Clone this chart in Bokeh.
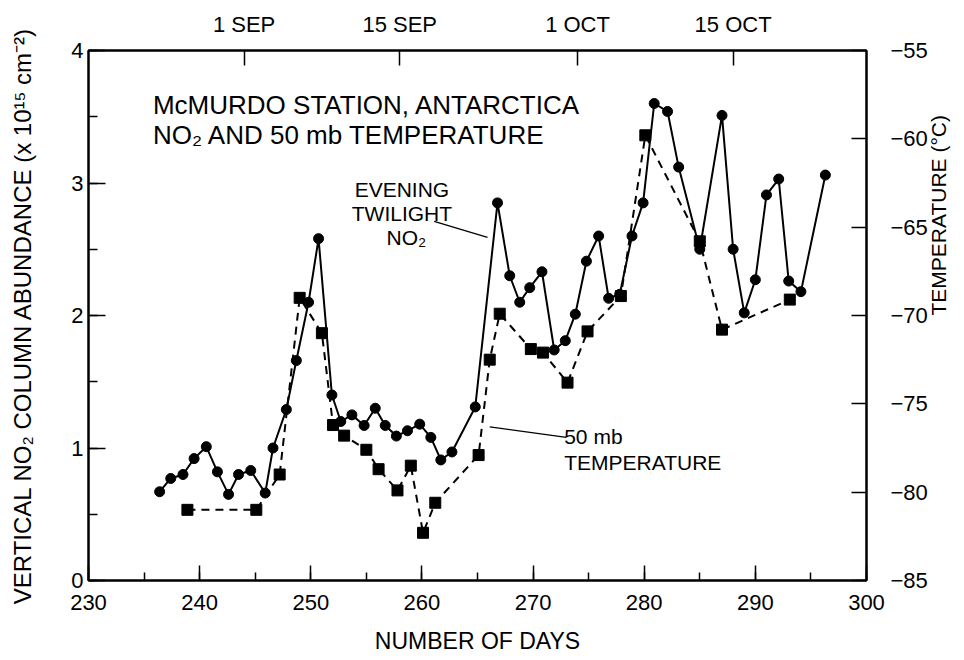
import math
from bokeh.plotting import figure
from bokeh.models import Range1d, LinearAxis, FixedTicker, SingleIntervalTicker, Label, Spacer
from bokeh.layouts import column, row
from bokeh.embed import file_html
from bokeh.resources import INLINE

# ---------------- data ----------------
no2_days = [236.4, 237.4, 238.5, 239.5, 240.6, 241.6, 242.6, 243.5, 244.6, 245.9,
            246.6, 247.8, 248.7, 249.8, 250.7, 251.9, 252.7, 253.7, 254.8, 255.8,
            256.7, 257.7, 258.7, 259.8, 260.8, 261.7, 262.7, 264.8, 266.8, 267.9,
            268.8, 269.7, 270.8, 271.9, 272.9, 273.8, 274.8, 275.9, 276.8, 277.8,
            278.9, 279.9, 280.9, 282.1, 283.1, 285.0, 287.0, 288.0, 289.0, 290.0,
            291.0, 292.1, 293.0, 294.1, 296.3]
no2_values = [0.67, 0.77, 0.80, 0.92, 1.01, 0.82, 0.65, 0.80, 0.83, 0.66,
              1.00, 1.29, 1.66, 2.10, 2.58, 1.40, 1.20, 1.25, 1.17, 1.30,
              1.17, 1.09, 1.13, 1.18, 1.08, 0.91, 0.97, 1.31, 2.85, 2.30,
              2.10, 2.21, 2.33, 1.74, 1.81, 2.01, 2.41, 2.60, 2.13, 2.16,
              2.60, 2.85, 3.60, 3.54, 3.12, 2.50, 3.51, 2.50, 2.02, 2.27,
              2.91, 3.03, 2.26, 2.18, 3.06]

temp_days = [238.9, 245.1, 247.2, 249.0, 251.0, 252.0, 253.0, 255.0, 256.1, 257.8,
             259.0, 260.1, 261.2, 265.1, 266.1, 267.0, 269.8, 270.9, 273.1, 274.9,
             277.9, 280.1, 285.0, 287.0, 293.1]
temp_values = [-81.0, -81.0, -79.0, -69.0, -71.0, -76.2, -76.8, -77.6, -78.7, -79.9,
               -78.5, -82.3, -80.6, -77.9, -72.5, -69.9, -71.9, -72.1, -73.8, -70.9,
               -68.9, -59.8, -65.8, -70.8, -69.1]

month_tick_days = [244, 258, 274, 288]
month_tick_labels = ["1 SEP", "15 SEP", "1 OCT", "15 OCT"]
temp_ticks = [-85, -80, -75, -70, -65, -60, -55]
temp_tick_labels = ["\u221285", "\u221280", "\u221275", "\u221270", "\u221265", "\u221260", "\u221255"]

FONT = "Liberation Sans"

p = figure(frame_width=778, frame_height=530, output_backend="svg", toolbar_location=None,
           x_range=Range1d(230, 300), y_range=Range1d(0, 4),
           min_border_left=5, min_border_right=5, min_border_top=5, min_border_bottom=5,
           x_axis_location=None, y_axis_location=None)
p.extra_y_ranges = {"temp": Range1d(-85, -55)}
p.grid.visible = False
p.outline_line_color = "black"
p.outline_line_width = 2
p.background_fill_color = "white"
p.border_fill_color = "white"


def style(ax, tick_in=15, minor_in=8, standoff=6, size="22px", label_size="23px"):
    ax.axis_line_color = "black"
    ax.axis_line_width = 2
    ax.major_tick_in = tick_in
    ax.major_tick_out = 0
    ax.minor_tick_in = minor_in
    ax.minor_tick_out = 0
    ax.major_tick_line_width = 1.5
    ax.minor_tick_line_width = 1.5
    ax.major_tick_line_color = "black"
    ax.minor_tick_line_color = "black"
    ax.major_label_text_font = FONT
    ax.major_label_text_font_size = size
    ax.major_label_text_color = "black"
    ax.major_label_standoff = standoff
    ax.axis_label_text_font = FONT
    ax.axis_label_text_font_size = label_size
    ax.axis_label_text_font_style = "normal"
    ax.axis_label_text_color = "black"


bottom = LinearAxis(ticker=SingleIntervalTicker(interval=10, num_minor_ticks=2),
                    axis_label="NUMBER OF DAYS")
style(bottom, standoff=14)
bottom.axis_label_standoff = 15
p.add_layout(bottom, "below")

top = LinearAxis(ticker=FixedTicker(ticks=month_tick_days, minor_ticks=[]))
top.major_label_overrides = {d: t for d, t in zip(month_tick_days, month_tick_labels)}
style(top, standoff=14)
p.add_layout(top, "above")

left = LinearAxis(ticker=SingleIntervalTicker(interval=1, num_minor_ticks=2),
                  axis_label="VERTICAL NO\u2082 COLUMN ABUNDANCE (x 10\u00b9\u2075 cm\u207b\u00b2)")
style(left, tick_in=17, minor_in=9, standoff=5, label_size="24px")
left.axis_label_standoff = 32
p.add_layout(left, "left")

right = LinearAxis(y_range_name="temp", ticker=FixedTicker(ticks=temp_ticks, minor_ticks=[]),
                   axis_label="TEMPERATURE (\u00b0C)")
right.major_label_overrides = {d: t for d, t in zip(temp_ticks, temp_tick_labels)}
style(right, tick_in=15, standoff=24, label_size="21px")
right.axis_label_standoff = 8
right.axis_label_orientation = math.pi / 2
p.add_layout(right, "right")

# NO2 series
p.line(no2_days, no2_values, line_color="black", line_width=2)
p.scatter(no2_days, no2_values, marker="circle", size=10, color="black")

# temperature series
p.line(temp_days, temp_values, y_range_name="temp", line_color="black",
       line_width=2, line_dash="8 6")
p.scatter(temp_days, temp_values, y_range_name="temp", marker="square", size=11,
          color="black")

# annotations
def lab(x, y, text, size="21px", align="left"):
    p.add_layout(Label(x=x, y=y, text=text, text_font=FONT, text_font_size=size,
                       text_baseline="middle", text_align=align, text_color="black"))

lab(235.8, 3.59, "McMURDO STATION, ANTARCTICA", size="26px")
lab(235.8, 3.36, "NO\u2082 AND 50 mb TEMPERATURE", size="26px")
lab(258.2, 2.95, "EVENING", align="center")
lab(258.2, 2.77, "TWILIGHT", align="center")
lab(258.6, 2.59, "NO\u2082", align="center")
lab(272.8, 1.09, "50 mb")
lab(272.8, 0.89, "TEMPERATURE")

p.segment(x0=[261.1, 266.1], y0=[2.71, 1.16], x1=[265.9, 273.0], y1=[2.59, 1.08],
          line_color="black", line_width=1.2)

layout = column(Spacer(height=8), row(Spacer(width=6), p))
open("out.html", "w").write(file_html(layout, INLINE))
